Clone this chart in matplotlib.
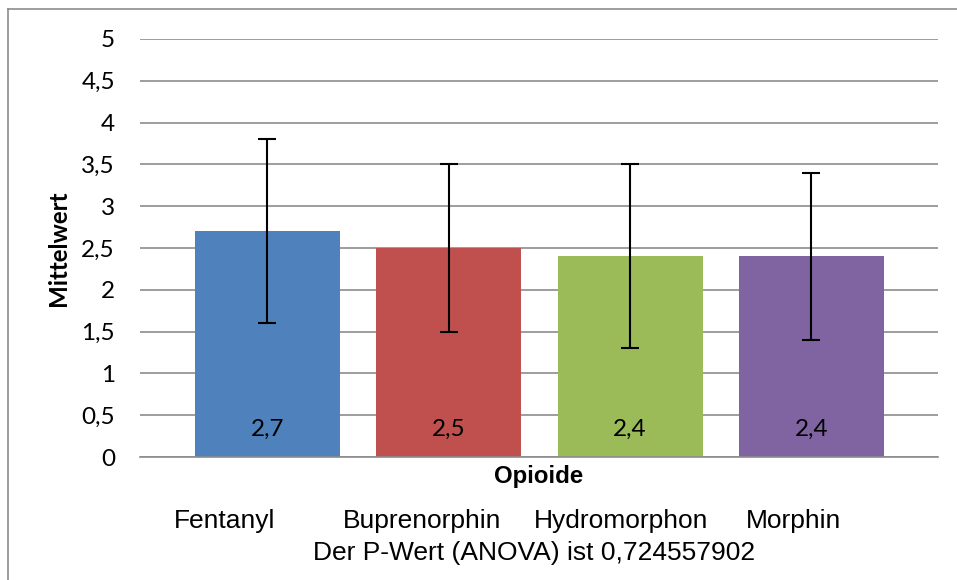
import numpy as np
import matplotlib.pyplot as plt
from matplotlib.lines import Line2D

# data
opioids = ["Fentanyl", "Buprenorphin", "Hydromorphon", "Morphin"]
means = [2.7, 2.5, 2.4, 2.4]
sds = [1.1, 1.0, 1.1, 1.0]
value_labels = ["2,7", "2,5", "2,4", "2,4"]
yticks = [0, 0.5, 1, 1.5, 2, 2.5, 3, 3.5, 4, 4.5, 5]
ytick_labels = ["0", "0,5", "1", "1,5", "2", "2,5", "3", "3,5", "4", "4,5", "5"]
p_text = "Der P-Wert (ANOVA) ist 0,724557902"
colors = ["#4F81BD", "#C0504D", "#9BBB59", "#8064A2"]

W, H = 957, 580
fig = plt.figure(figsize=(W / 100, H / 100), dpi=100)
ax = fig.add_axes([140 / W, 1 - 457 / H, (938 - 140) / W, (457 - 39) / H])

x = np.arange(len(opioids))
ax.bar(x, means, width=0.8, color=colors, zorder=2)
ax.errorbar(x, means, yerr=sds, fmt="none", ecolor="black", elinewidth=1.5,
            capsize=6.5, capthick=1.5, zorder=3)

# value labels near the base of each bar
for xi, lab in zip(x, value_labels):
    ax.text(xi, 0.33, lab, ha="center", va="center", fontsize=17.5,
            family="Lato", color="black", zorder=4)

ax.set_xlim(-0.703, 3.698)
ax.set_ylim(0, 5)
ax.set_yticks(yticks)
ax.set_yticklabels(ytick_labels, family="Lato", fontsize=17.5)
ax.set_xticks([])
ax.tick_params(axis="y", length=0, pad=18)
ax.yaxis.grid(True, color="#8c8c8c", linewidth=1.2, zorder=0)
ax.set_axisbelow(True)
for s in ["top", "right", "left"]:
    ax.spines[s].set_visible(False)
ax.spines["bottom"].set_color("#8c8c8c")
ax.spines["bottom"].set_linewidth(1.2)

def ftext(px, py, s, **kw):
    fig.text(px / W, 1 - py / H, s, ha="center", va="center", **kw)

ftext(58, 248, "Mittelwert", rotation=90, fontsize=17.4, fontweight="bold", family="Lato")
ftext(539, 476, "Opioide", fontsize=17.3, fontweight="bold", family="Liberation Sans")
for px, name in zip([225, 422, 621, 794], opioids):
    ftext(px, 521, name, fontsize=19, family="Liberation Sans")
ftext(534, 553, p_text, fontsize=19, family="Liberation Sans")

# outer chart frame (top and left edges visible)
fig.add_artist(Line2D([8 / W, 1], [1 - 9 / H, 1 - 9 / H], color="#8c8c8c", lw=1.2))
fig.add_artist(Line2D([8 / W, 8 / W], [1 - 9 / H, 0], color="#8c8c8c", lw=1.2))

fig.savefig("out.png", dpi=100)
